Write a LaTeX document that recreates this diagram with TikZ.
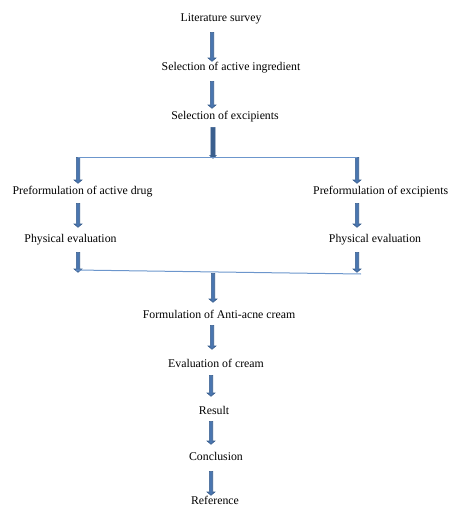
\documentclass[tikz,border=0pt]{standalone}
\usepackage{fontspec}
\setmainfont{Liberation Serif}
\usetikzlibrary{shapes.arrows}
\definecolor{arrfill}{HTML}{4A76B0}
\definecolor{arrdraw}{HTML}{3A5F8E}
\definecolor{linec}{HTML}{6C96CC}
\begin{document}
\begin{tikzpicture}[x=1pt,y=-1pt,
  lbl/.style={inner sep=0pt, font=\fontsize{11.8}{14}\selectfont, anchor=center},
  barrow/.style={single arrow, rotate=-90, anchor=tail, fill=arrfill, draw=arrdraw, line width=0.6pt,
    single arrow head extend=2.2pt, single arrow head indent=0pt,
    single arrow tip angle=100,
    inner xsep=0pt, inner ysep=1.4pt, shape border uses incircle=false},
  conn/.style={draw=linec, line width=1pt}]
\useasboundingbox (0,0) rectangle (449,506);
\node[lbl] (lit) at (221,19) {Literature survey};
\node[lbl] (sai) at (231,68) {Selection of active ingredient};
\node[lbl] (sex) at (225,117) {Selection of excipients};
\node[lbl] (pad) at (82.5,192) {Preformulation of active drug};
\node[lbl, anchor=west] (pex) at (313,192) {Preformulation of excipients};
\node[lbl] (pel) at (70.5,240) {Physical evaluation};
\node[lbl] (per) at (375,240) {Physical evaluation};
\node[lbl] (form) at (219,314) {Formulation of Anti-acne cream};
\node[lbl] (evc) at (216,363) {Evaluation of cream};
\node[lbl] (res) at (214,410) {Result};
\node[lbl] (con) at (216,456) {Conclusion};
\node[lbl] (ref) at (215,500) {Reference};
% junction lines
\coordinate (jl1) at (78,157);
\coordinate (jr1) at (357,157);
\coordinate (jl2) at (76,270);
\coordinate (jr2) at (361,274);
% block arrows (tail position, length)
\node[barrow, minimum height=29pt] (a1) at (212,32) {};
\node[barrow, minimum height=27pt] (a2) at (212,81) {};
\node[barrow, minimum height=31pt, fill=arrdraw, inner ysep=1.8pt, single arrow head extend=1pt] (a3) at (213,127) {};
\node[barrow, minimum height=26pt] (a4) at (78,157) {};
\node[barrow, minimum height=26pt] (a5) at (357,157) {};
\node[barrow, minimum height=24pt] (a6) at (78,203) {};
\node[barrow, minimum height=24pt] (a7) at (357,203) {};
\node[barrow, minimum height=20pt] (a8) at (78,252) {};
\node[barrow, minimum height=20pt] (a9) at (357,252) {};
\node[barrow, minimum height=29pt] (a10) at (213,273) {};
\node[barrow, minimum height=24pt] (a11) at (212,325) {};
\node[barrow, minimum height=21pt] (a12) at (211,375) {};
\node[barrow, minimum height=23pt] (a13) at (211,421) {};
\node[barrow, minimum height=24pt] (a14) at (211,471) {};
\draw[conn] (jl1) -- (jr1);
\draw[conn] (jl2) -- (jr2);
\end{tikzpicture}
\end{document}
